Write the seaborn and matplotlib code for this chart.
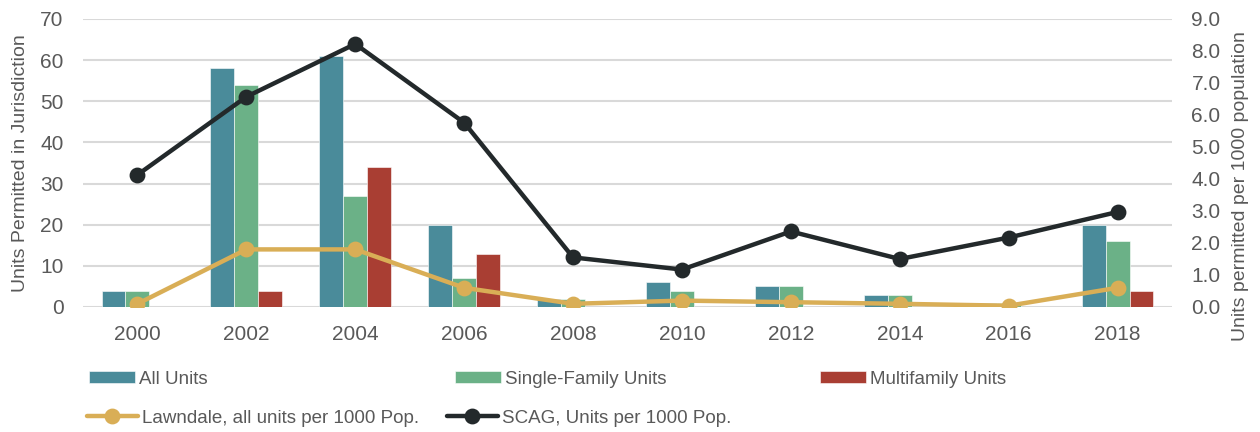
import matplotlib
matplotlib.use("Agg")
import matplotlib.pyplot as plt
import pandas as pd
import seaborn as sns

# data
years = ["2000", "2002", "2004", "2006", "2008", "2010", "2012", "2014", "2016", "2018"]
all_units = [4, 58, 61, 20, 2, 6, 5, 3, 1, 20]
single_family = [4, 54, 27, 7, 2, 4, 5, 3, 1, 16]
multifamily = [0, 4, 34, 13, 0, 0, 0, 0, 0, 4]
lawndale_per_1000 = [0.1, 1.8, 1.8, 0.6, 0.1, 0.2, 0.15, 0.1, 0.04, 0.6]
scag_per_1000 = [4.13, 6.57, 8.22, 5.76, 1.55, 1.17, 2.36, 1.5, 2.17, 2.97]

bar_names = ["All Units", "Single-Family Units", "Multifamily Units"]
line_names = ["Lawndale, all units per 1000 Pop.", "SCAG, Units per 1000 Pop."]
bar_colors = ["#4A8B9A", "#6BB187", "#A93E33"]
line_colors = ["#D9AE56", "#23292B"]
text_color = "#595959"
grid_color = "#D9D9D9"

bars = pd.DataFrame({
    "year": years * 3,
    "units": all_units + single_family + multifamily,
    "type": [n for n in bar_names for _ in years],
})
lines = pd.DataFrame({
    "year": years * 2,
    "rate": lawndale_per_1000 + scag_per_1000,
    "series": [n for n in line_names for _ in years],
})

sns.set_style("white")
plt.rcParams["font.family"] = ["Liberation Sans", "DejaVu Sans"]
plt.rcParams["text.color"] = text_color

fig = plt.figure(figsize=(12.6, 4.32), dpi=100)
ax = fig.add_axes([83 / 1260, 1 - 307 / 432, 1089 / 1260, 288 / 432])

sns.barplot(data=bars, x="year", y="units", hue="type", palette=bar_colors,
            saturation=1, width=0.66, edgecolor="white", linewidth=0.4, ax=ax)
ax.set_ylim(0, 70)
ax.set_yticks(range(0, 71, 10))
ax.yaxis.grid(True, color=grid_color, linewidth=1.5)
ax.set_axisbelow(True)
ax.set_xlim(-0.5, len(years) - 0.5)
ax.set_xlabel("")
ax.set_ylabel("Units Permitted in Jurisdiction", fontsize=14, color=text_color)
ax.yaxis.set_label_coords((29 - 83) / 1089, 0.5)
ax.tick_params(axis="both", length=0, labelsize=15, labelcolor=text_color)
ax.tick_params(axis="y", pad=14)
ax.tick_params(axis="x", pad=13)
for s in ax.spines.values():
    s.set_visible(False)

ax2 = ax.twinx()
sns.pointplot(data=lines, x="year", y="rate", hue="series", palette=line_colors,
              markers="o", markersize=9, linewidth=3.2, errorbar=None, ax=ax2)
ax2.set_ylim(0, 9)
ax2.set_yticks(range(0, 10))
ax2.set_yticklabels([f"{v:.1f}" for v in range(0, 10)])
ax2.set_xlim(-0.5, len(years) - 0.5)
ax2.set_ylabel("Units permitted per 1000 population", fontsize=14, color=text_color)
ax2.yaxis.set_label_coords((1232 - 83) / 1089, 0.42)
ax2.tick_params(axis="y", length=0, labelsize=15, labelcolor=text_color, pad=14)
ax2.grid(False)
for s in ax2.spines.values():
    s.set_visible(False)

bar_handles, bar_labels = ax.get_legend_handles_labels()
line_handles, line_labels = ax2.get_legend_handles_labels()
ax.get_legend().remove()
ax2.get_legend().remove()

legend_kw = dict(frameon=False, fontsize=13.5, borderpad=0, borderaxespad=0,
                 handletextpad=0.22, loc="center left", labelcolor=text_color)
for h, lab, x in zip(bar_handles, bar_labels, [89, 455, 820]):
    fig.legend([h], [lab], bbox_to_anchor=(x / 1260, 1 - 379 / 432),
               handlelength=2.45, handleheight=0.6, **legend_kw)
for h, lab, x in zip(line_handles, line_labels, [87, 447]):
    fig.legend([h], [lab], bbox_to_anchor=(x / 1260, 1 - 418 / 432),
               handlelength=2.7, **legend_kw)

fig.savefig("out.png", dpi=100)
